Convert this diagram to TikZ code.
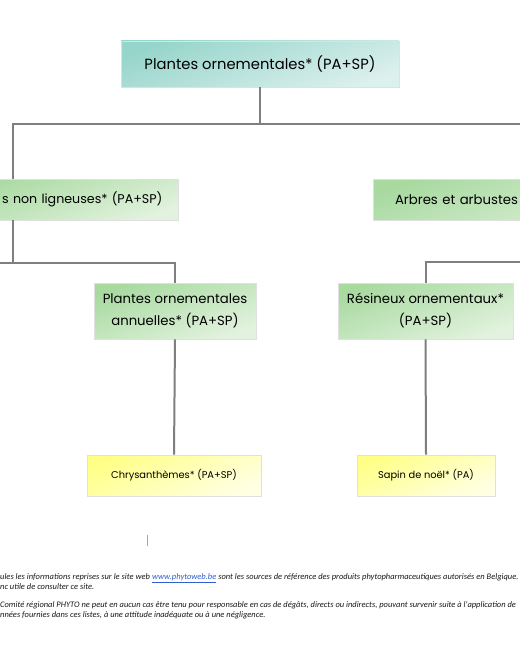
\documentclass[tikz,border=0pt]{standalone}
\usepackage{fontspec}
\setmainfont{Poppins}
\newfontfamily\footfont{Carlito}
\definecolor{lineg}{HTML}{7F7F7F}
\definecolor{tealA}{HTML}{96D5CB}
\definecolor{tealB}{HTML}{DCF0ED}
\definecolor{greenA}{HTML}{A8DAA0}
\definecolor{greenB}{HTML}{E2F2DE}
\definecolor{yelA}{HTML}{FFFF88}
\definecolor{yelB}{HTML}{FFFFE2}
\definecolor{linkblue}{HTML}{2F5FD0}
\tikzset{
  x=1bp, y=-1bp,
  box/.style={draw=black!12, line width=0.6bp, inner sep=0pt, align=center, font=\fontsize{13.3}{22}\selectfont, text=black},
  tealbox/.style={box, top color=tealA, bottom color=tealB, shading angle=20, font=\fontsize{14.8}{22}\selectfont},
  greenbox/.style={box, top color=greenA, bottom color=greenB, shading angle=20},
  yelbox/.style={box, top color=yelA, bottom color=yelB, shading angle=25, font=\fontsize{9.9}{12}\selectfont},
  conn/.style={draw=lineg, line width=2bp},
  foot/.style={anchor=base west, inner sep=0pt, font=\footfont\itshape\fontsize{8.5}{10}\selectfont, text=black!90}
}
\begin{document}
\begin{tikzpicture}
\useasboundingbox (0,0) rectangle (520,650);
\clip (0,0) rectangle (520,650);
\fill[white] (0,0) rectangle (520,650);
% nodes
\node[tealbox, minimum width=278bp, minimum height=46bp] (top) at (260,64) {Plantes ornementales* (PA+SP)};
\node[greenbox, minimum width=218bp, minimum height=41bp, text width=187bp, align=right, font=\fontsize{12.7}{22}\selectfont] (left) at (69,199.5) {s non ligneuses* (PA+SP)};
\node[greenbox, minimum width=327bp, minimum height=41bp, text width=283bp, align=left] (arb) at (536.5,199.5) {Arbres et arbustes};
\node[greenbox, minimum width=162bp, minimum height=56bp] (ann) at (175,311) {Plantes ornementales\\annuelles* (PA+SP)};
\node[greenbox, minimum width=175bp, minimum height=56bp] (res) at (425.5,311) {Résineux ornementaux*\\(PA+SP)};
\node[yelbox, minimum width=174bp, minimum height=41bp] (chry) at (174,475.5) {Chrysanthèmes* (PA+SP)};
\node[yelbox, minimum width=138bp, minimum height=41bp] (sap) at (426,475.5) {Sapin de noël* (PA)};
% junction coordinates
\coordinate (j1) at (13,124);
\coordinate (j2) at (13,263);
\coordinate (jL) at (-50,263);
\coordinate (jR) at (560,262);
% connectors
\draw[conn] (top.south) |- (j1) -- (j1 |- left.north);
\draw[conn] (top.south) |- (j1) -| (arb.north);
\draw[conn] (j1 |- left.south) -- (j2);
\draw[conn] (jL) -| (ann.north);
\draw[conn] (jR) -| (res.north);
\draw[conn] (ann.south) -- (chry.north);
\draw[conn] (res.south) -- (sap.north);
% cursor mark
\coordinate (cur) at (147,535);
\draw[black!35, line width=0.6bp] (cur) -- ++(0,11);
% footer
\node[foot] (f1) at (0,579) {ules les informations reprises sur le site web \textcolor{linkblue}{\underline{www.phytoweb.be}} sont les sources de référence des produits phytopharmaceutiques autorisés en Belgique.};
\node[foot] (f2) at (0,589) {nc utile de consulter ce site.};
\node[foot] (f3) at (0,607) { Comité régional PHYTO ne peut en aucun cas être tenu pour responsable en cas de dégâts, directs ou indirects, pouvant survenir suite à l'application de};
\node[foot] (f4) at (0,617) {nnées fournies dans ces listes, à une attitude inadéquate ou à une négligence.};
\end{tikzpicture}
\end{document}
